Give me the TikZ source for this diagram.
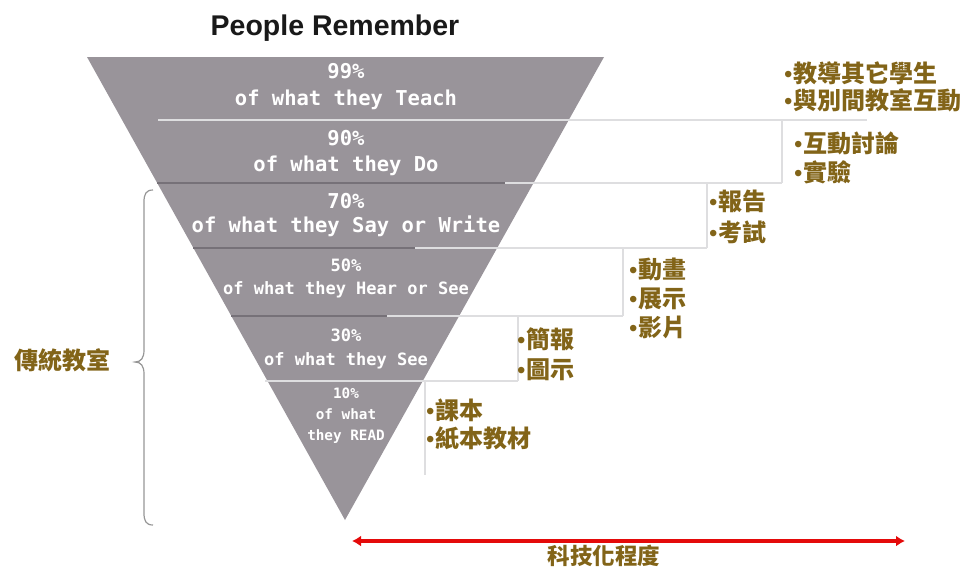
\documentclass[tikz,border=0pt]{standalone}
\usepackage{fontspec}
\setmainfont{Liberation Sans}
\newfontfamily\cjk{Noto Sans CJK TC}
\newfontfamily\bandfont{DejaVu Sans Mono}
\usetikzlibrary{arrows.meta}

\definecolor{bandgray}{RGB}{153,148,154}
\definecolor{banddark}{RGB}{118,113,120}
\definecolor{stepgray}{RGB}{222,222,224}
\definecolor{bracegray}{RGB}{150,150,150}
\definecolor{gold}{RGB}{130,100,24}
\definecolor{arrowred}{RGB}{228,10,10}

\newcommand{\bul}{{\normalfont\textbullet}\kern1pt}

\begin{document}
\begin{tikzpicture}[x=1pt,y=-1pt,
  band/.style={text=white,align=center,inner sep=0pt},
  item/.style={text=gold,font=\cjk\bfseries\fontsize{24}{29}\selectfont,align=left,anchor=west,inner sep=0pt},
  stepline/.style={draw=stepgray,line width=1.5pt}]

\useasboundingbox (0,0) rectangle (972,571);

%label figure
\node[font=\bfseries\fontsize{28.5}{32}\selectfont,text=black!90] (title) at (335,28) {People Remember};

%draw triangle
\fill[bandgray] (87,57) -- (604,57) -- (345,520) -- cycle;

%draw dark band borders
\foreach \y in {183,248,316}
	{
	\draw[banddark,line width=1.5pt] ({87+(\y-57)*0.5572},\y)--({604-(\y-57)*0.5572},\y);
	}

%draw steps beside the triangle
\foreach \ya/\xa/\xb/\xv/\yb in {120/158/867/782/183, 183/505/782/707/248, 248/415/707/623/316, 316/387/623/518/381, 381/265/518/425/475}
	{
	\draw[stepline] (\xa,\ya)--(\xb,\ya);
	\draw[stepline] (\xv,\ya)--(\xv,\yb);
	}

%band texts
\foreach \name/\y/\s/\b/\txt in {b99/86.5/20.5/27/{99\%\\of what they Teach}, b90/153/20.5/26/{90\%\\of what they Do}, b70/215/20.5/24/{70\%\\of what they Say or Write}, b50/278.5/17/23/{50\%\\of what they Hear or See}, b30/349/17/24/{30\%\\of what they See}, b10/416/14.3/21/{10\%\\of what\\they READ}}
	{
	\node[band,font=\bandfont\bfseries\fontsize{\s}{\b}\selectfont] (\name) at (346,\y) {\txt};
	}

%methods beside each band
\node[item,font=\cjk\bfseries\fontsize{24}{27}\selectfont] (m99) at (784,86.5) {\bul 教導其它學生\\\bul 與別間教室互動};
\node[item] (m90) at (794,157.5) {\bul 互動討論\\\bul 實驗};
\node[item,font=\cjk\bfseries\fontsize{24}{31}\selectfont] (m70) at (709,216.5) {\bul 報告\\\bul 考試};
\node[item] (m50) at (629,298) {\bul 動畫\\\bul 展示\\\bul 影片};
\node[item,font=\cjk\bfseries\fontsize{24}{30}\selectfont] (m30) at (517,354) {\bul 簡報\\\bul 圖示};
\node[item,font=\cjk\bfseries\fontsize{24}{28}\selectfont] (m10) at (426,424) {\bul 課本\\\bul 紙本教材};

%draw brace for traditional classroom
\draw[bracegray,line width=1.2pt] (153,190) .. controls (146,190) and (144,194) .. (144,202) -- (144,350) .. controls (144,358) and (141,362) .. (135,362) .. controls (141,362) and (144,366) .. (144,374) -- (144,513) .. controls (144,521) and (146,525) .. (153,525);
\node[text=gold,font=\cjk\bfseries\fontsize{24}{26}\selectfont,inner sep=0pt] (trad) at (62,360) {傳統教室};

%draw technology arrow
\coordinate (techL) at (352,541);
\coordinate (techR) at (905,541);
\draw[{Latex[length=9pt,width=11pt]}-{Latex[length=9pt,width=11pt]},arrowred,line width=3.5pt] (techL)--(techR);
\node[text=gold,font=\cjk\bfseries\fontsize{22.5}{24}\selectfont,inner sep=0pt] (tech) at (604,556) {科技化程度};

\end{tikzpicture}
\end{document}
